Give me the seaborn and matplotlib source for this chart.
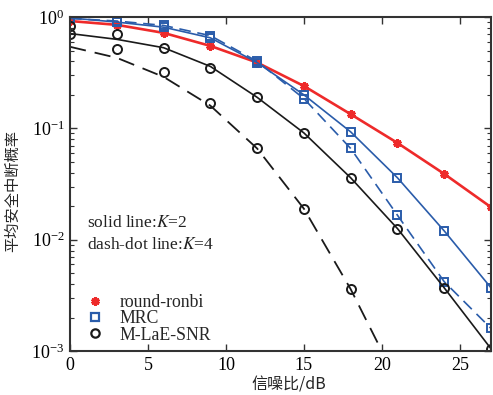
import numpy as np
import pandas as pd
import seaborn as sns
import matplotlib
matplotlib.use("Agg")
import matplotlib.pyplot as plt
from matplotlib.lines import Line2D
from matplotlib.ticker import LogLocator, NullFormatter

sns.set_theme(style="ticks")
plt.rcParams["font.family"] = ["Liberation Serif", "Noto Sans CJK SC", "DejaVu Sans"]
plt.rcParams["mathtext.fontset"] = "stix"

# SNR points (dB)
snr = [0, 3, 6, 9, 12, 15, 18, 21, 24, 27]

# round-ronbi, K=2
rr_k2 = [0.92, 0.85, 0.72, 0.55, 0.39, 0.24, 0.134, 0.074, 0.039, 0.0196]

# MRC, K=2 and K=4
mrc_k2 = [0.98, 0.90, 0.81, 0.65, 0.39, 0.20, 0.093, 0.036, 0.012, 0.0037]
mrc_k4 = [0.97, 0.92, 0.84, 0.68, 0.40, 0.185, 0.066, 0.0166, 0.0042, 0.0016]

# M-LaE-SNR theory curves
mle_k2_line = [0.71, 0.63, 0.53, 0.36, 0.19, 0.091, 0.036, 0.0126, 0.0037, 0.00105]
snr_k4_line = [0, 3, 6, 9, 12, 15, 18, 20, 21]
mle_k4_line = [0.54, 0.43, 0.29, 0.16, 0.066, 0.019, 0.0036, 0.001, 0.00045]

# M-LaE-SNR simulated points
mle_k2_pts = [0.83, 0.70, 0.53, 0.35, 0.19, 0.091, 0.036, 0.0126, 0.0037, 0.00105]
snr_k4_pts = [0, 3, 6, 9, 12, 15, 18]
mle_k4_pts = [0.70, 0.52, 0.32, 0.17, 0.066, 0.019, 0.0036]

red = "#ee2a2a"
blue = "#2a5caa"
black = "#1a1a1a"

fig = plt.figure(figsize=(4.93, 3.95), dpi=100)
ax = fig.add_axes([0.142, 0.111, 0.854, 0.846])

star = (6, 2, 0)

# round-ronbi
sns.lineplot(x=snr, y=rr_k2, ax=ax, color=red, lw=1.9, marker=star, ms=6,
             mew=2.2, mec=red, mfc=red)

# MRC
sns.lineplot(x=snr, y=mrc_k2, ax=ax, color=blue, lw=1.2, marker="s", ms=5.2,
             mew=1.4, mfc="none", mec=blue)
sns.lineplot(x=snr, y=mrc_k4, ax=ax, color=blue, lw=1.2, marker="s", ms=5.2,
             mew=1.4, mfc="none", mec=blue)
ax.lines[-1].set_dashes([7, 4])

# M-LaE-SNR theory
sns.lineplot(x=snr, y=mle_k2_line, ax=ax, color=black, lw=1.2)
sns.lineplot(x=snr_k4_line, y=mle_k4_line, ax=ax, color=black, lw=1.3)
ax.lines[-1].set_dashes([9, 5])

# M-LaE-SNR simulation
ax.plot(snr, mle_k2_pts, ls="none", marker="o", ms=6.5, mew=1.4, mfc="none", mec=black)
ax.plot(snr_k4_pts, mle_k4_pts, ls="none", marker="o", ms=6.5, mew=1.4, mfc="none", mec=black)

ax.set_yscale("log")
ax.set_xlim(0, 27)
ax.set_ylim(1e-3, 1)
ax.set_xticks([0, 5, 10, 15, 20, 25])
ax.yaxis.set_major_locator(LogLocator(base=10, numticks=10))
ax.yaxis.set_minor_locator(LogLocator(base=10, subs=np.arange(2, 10), numticks=10))
ax.yaxis.set_minor_formatter(NullFormatter())

ax.tick_params(which="both", direction="in", top=True, right=True,
               labelsize=13, colors="#333333", labelcolor="black", pad=4)
ax.tick_params(which="major", length=5, width=1.0)
ax.tick_params(which="minor", length=3, width=0.8)
for s in ax.spines.values():
    s.set_color("#333333")
    s.set_linewidth(1.5)

ax.set_xlabel("信噪比/dB", family=["Noto Sans CJK SC", "DejaVu Sans"], fontsize=11.5)
ax.xaxis.set_label_coords(0.52, -0.075)
ax.set_ylabel("平均安全中断概率", family=["Noto Sans CJK SC", "DejaVu Sans"], fontsize=11)
ax.yaxis.set_label_coords(-0.115, 0.48)

ax.text(0.040, 0.383, "solid line:$K$=2", transform=ax.transAxes, fontsize=12.5,
        color="#222222", va="center")
ax.text(0.040, 0.318, "dash-dot line:$K$=4", transform=ax.transAxes, fontsize=12.5,
        color="#222222", va="center")

handles = [
    Line2D([], [], ls="none", marker=star, ms=6, mew=2.2, color=red),
    Line2D([], [], ls="none", marker="s", ms=5.2, mew=1.6, mfc="none", mec=blue),
    Line2D([], [], ls="none", marker="o", ms=6, mew=1.6, mfc="none", mec=black),
]
ax.legend(handles, ["round-ronbi", "MRC", "M-LaE-SNR"], loc="lower left",
          bbox_to_anchor=(-0.013, -0.025), frameon=False, fontsize=12.8,
          handletextpad=0.6, labelspacing=-0.05, handlelength=1.6)

fig.savefig("out.png", dpi=100)
